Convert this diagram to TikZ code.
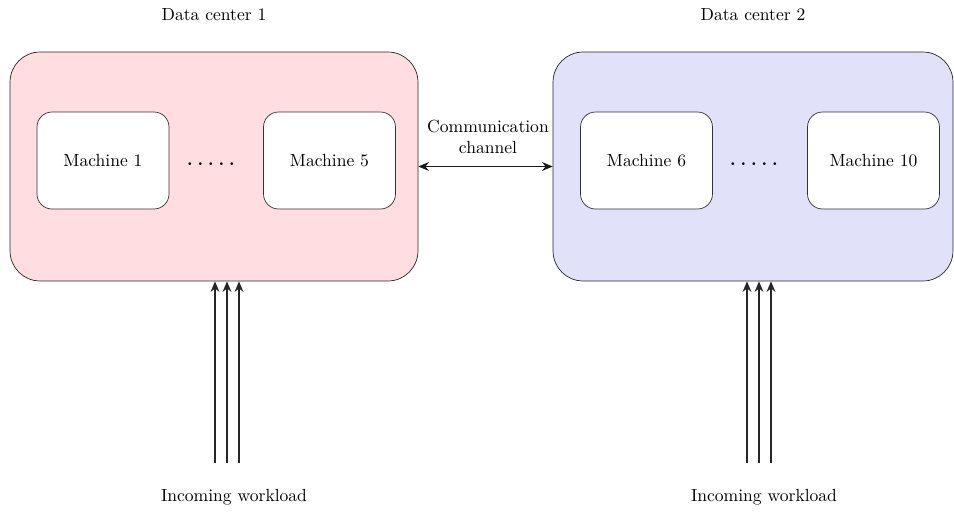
\documentclass[tikz,border=0pt]{standalone}
\usepackage{xcolor}
\usepackage{tikz}
\usetikzlibrary{shapes,arrows,arrows.meta,positioning}
\definecolor{dcpink}{RGB}{255,221,225}
\definecolor{dcblue}{RGB}{225,225,250}

\begin{document}
\begin{tikzpicture}[x=0.02cm,y=-0.02cm]

\tikzstyle{dcbox}=[draw=black!85, rounded corners=0.6cm, minimum width=8.16cm,
    minimum height=4.58cm, inner sep=0pt]
\tikzstyle{machine}=[draw=black!80, fill=white, rounded corners=0.3cm,
    minimum width=2.64cm, minimum height=1.94cm, inner sep=0pt]
\tikzstyle{loadArrow}=[draw=black!85, semithick, -{Stealth[length=6pt,width=5pt]}]

\useasboundingbox (0,0) rectangle (954,511);

% data centres
\node[dcbox,fill=dcpink] (dc1) at (214,166.5) {};
\node[dcbox,fill=dcblue,minimum width=8cm] (dc2) at (753,166.5) {};

\node (t1) at (214,15) {Data center 1};
\node (t2) at (753,15) {Data center 2};

\node[machine] (m1) at (103,160.5) {Machine 1};
\node[machine] (m5) at (329.5,160.5) {Machine 5};
\node (dots1) at (211,164) {\textbf{.\;.\;.\;.\;.}};

\node[machine] (m6) at (646.5,160.5) {Machine 6};
\node[machine] (m10) at (873.5,160.5) {Machine 10};
\node (dots2) at (754,164) {\textbf{.\;.\;.\;.\;.}};

% link between the two
\draw[draw=black!90, semithick, {Stealth[length=6pt,width=5pt]}-{Stealth[length=6pt,width=5pt]}] (dc1.east) -- (dc2.west);
\node[align=center] (comm) at (488,137) {Communication\\channel};

% workload
\node (w1) at (234,497) {Incoming workload};
\node (w2) at (764,497) {Incoming workload};

\foreach \x in {215,227,239} {
    \coordinate (a\x) at (\x,463);
    \draw[loadArrow] (a\x) -- (a\x |- dc1.south);
}
\foreach \x in {747,759,771} {
    \coordinate (b\x) at (\x,463);
    \draw[loadArrow] (b\x) -- (b\x |- dc2.south);
}

\end{tikzpicture}
\end{document}
